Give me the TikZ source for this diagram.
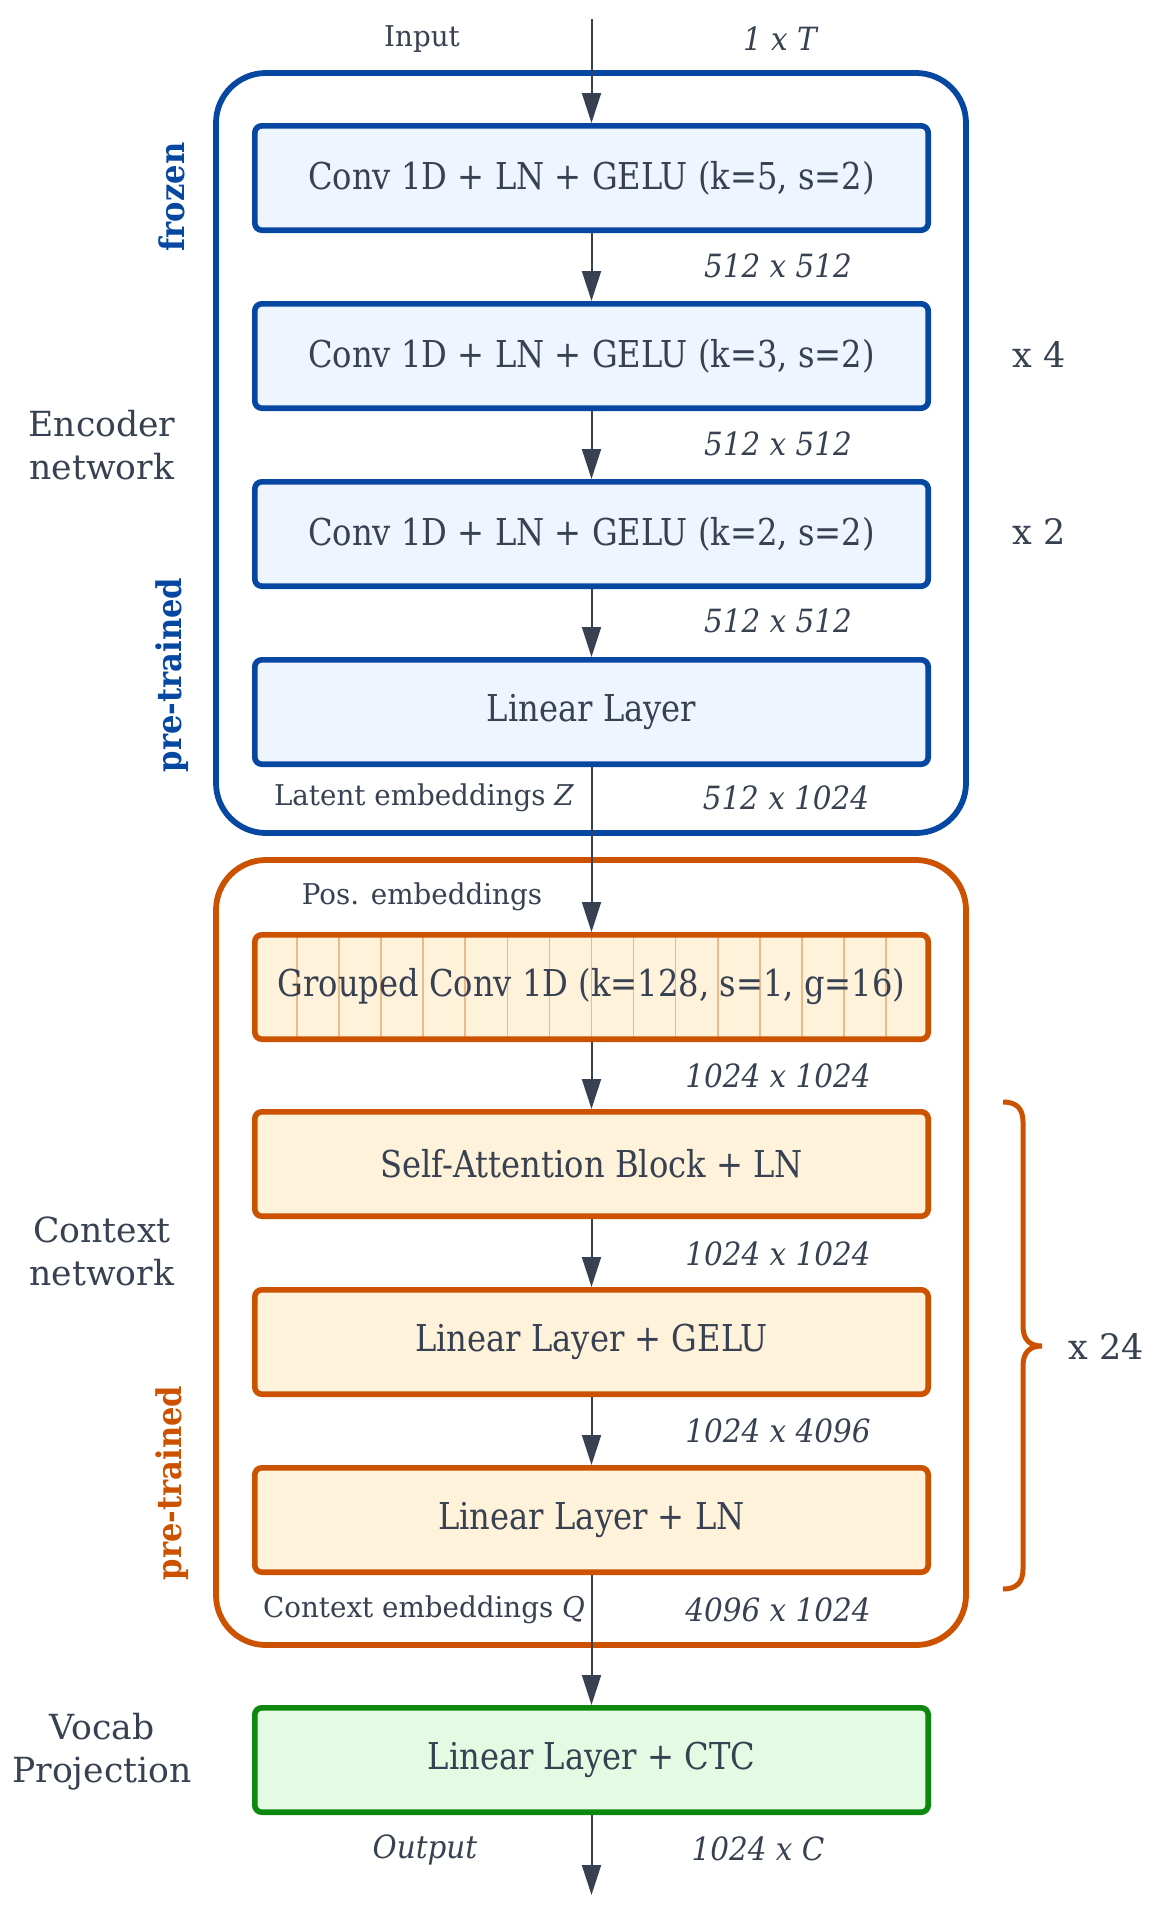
\documentclass[tikz,border=0pt]{standalone}
\usepackage{fontspec}
\setmainfont{DejaVu Serif}
\newfontfamily\boxf{DejaVu Serif}[FakeStretch=0.87]
\newfontfamily\dimf{DejaVu Serif}[FakeStretch=0.92]
\newfontfamily\smallf{DejaVu Serif}[FakeStretch=0.97]
\newfontfamily\vlf{DejaVu Serif}[FakeStretch=0.9]
\usetikzlibrary{arrows.meta,calc}
\definecolor{txt}{RGB}{55,65,81}
\definecolor{bluec}{RGB}{6,71,161}
\definecolor{bluefill}{RGB}{238,245,255}
\definecolor{orangec}{RGB}{204,82,0}
\definecolor{orangefill}{RGB}{255,242,219}
\definecolor{stripec}{RGB}{238,184,136}
\definecolor{greenc}{RGB}{12,136,12}
\definecolor{greenfill}{RGB}{227,251,227}
\begin{document}
\begin{tikzpicture}[x=0.5pt,y=-0.5pt,
  txtc/.style={text=txt,inner sep=0pt},
  boxtext/.style={txtc,font=\boxf\fontsize{18.5}{22}\selectfont},
  small/.style={txtc,font=\smallf\fontsize{14.3}{17}\selectfont},
  dim/.style={txtc,font=\dimf\fontsize{16}{19}\selectfont\itshape},
  side/.style={txtc,font=\fontsize{17.3}{21.5}\selectfont,align=center},
  rep/.style={txtc,font=\fontsize{17.5}{21}\selectfont},
  vlabel/.style={inner sep=0pt,rotate=90,font=\vlf\fontsize{17}{20}\selectfont\bfseries},
  layer/.style={boxtext,rounded corners=3.5pt,line width=2.8pt,minimum width=336.7pt,minimum height=52.2pt},
  bluebox/.style={layer,draw=bluec,fill=bluefill},
  orangebox/.style={layer,draw=orangec,fill=orangefill},
  greenbox/.style={layer,draw=greenc,fill=greenfill},
  arr/.style={draw=txt,line width=1pt,-{Triangle[length=15pt,width=9.5pt]},fill=txt},
  group/.style={line width=2.9pt,rounded corners=25pt}
]
\useasboundingbox (0,0) rectangle (1153,1911);

% group frames
\draw[group,draw=bluec] (216,73) rectangle (966,833);
\draw[group,draw=orangec] (216,860) rectangle (966,1645);

% layers
\node[bluebox] (b1) at (591.5,178) {Conv 1D + LN + GELU (k=5, s=2)};
\node[bluebox] (b2) at (591.5,356) {Conv 1D + LN + GELU (k=3, s=2)};
\node[bluebox] (b3) at (591.5,534) {Conv 1D + LN + GELU (k=2, s=2)};
\node[bluebox] (b4) at (591.5,712) {Linear Layer};
\node[orangebox,path picture={
   \foreach \k in {1,...,15}
     \draw[stripec,line width=0.75pt]
       ($(path picture bounding box.north west)!\k/16!(path picture bounding box.north east)$) --
       ($(path picture bounding box.south west)!\k/16!(path picture bounding box.south east)$);
  }] (g) at (591.5,987) {Grouped Conv 1D (k=128, s=1, g=16)};
\node[orangebox] (o1) at (591.5,1164) {Self-Attention Block + LN};
\node[orangebox] (o2) at (591.5,1342) {Linear Layer + GELU};
\node[orangebox] (o3) at (591.5,1520) {Linear Layer + LN};
\node[greenbox] (v) at (591.5,1760) {Linear Layer + CTC};

% connectors
\coordinate (in) at (591.5,19);
\coordinate (out) at (591.5,1895);
\draw[arr] (in) -- (b1);
\draw[arr] (b1) -- (b2);
\draw[arr] (b2) -- (b3);
\draw[arr] (b3) -- (b4);
\draw[arr] (b4) -- (g);
\draw[arr] (g) -- (o1);
\draw[arr] (o1) -- (o2);
\draw[arr] (o2) -- (o3);
\draw[arr] (o3) -- (v);
\draw[arr] (v) -- (out);

% labels
\node[small] (lin) at (422,39) {Input};
\node[dim] (d0) at (780,39) {1 x T};
\node[dim] (d1) at (778,266) {512 x 512};
\node[dim] (d2) at (778,444) {512 x 512};
\node[dim] (d3) at (778,621) {512 x 512};
\node[small] (llat) at (424,798) {Latent embeddings \textit{Z}};
\node[dim] (d4) at (786,798) {512 x 1024};
\node[small] (lpos) at (422,897) {Pos. embeddings};
\node[dim] (d5) at (778,1076) {1024 x 1024};
\node[dim] (d6) at (778,1254) {1024 x 1024};
\node[dim] (d7) at (778,1431) {1024 x 4096};
\node[small] (lctx) at (424,1610) {Context embeddings \textit{Q}};
\node[dim] (d8) at (778,1610) {4096 x 1024};
\node[dim] (lout) at (425,1850) {Output};
\node[dim] (d9) at (758,1849) {1024 x C};

\node[rep] (r4) at (1039,355) {x 4};
\node[rep] (r2) at (1039,532) {x 2};
\node[rep] (r24) at (1106,1346) {x 24};

\node[side] (senc) at (102,445) {Encoder\\network};
\node[side] (sctx) at (102,1251) {Context\\network};
\node[side] (svoc) at (102,1752) {Vocab\\Projection};

\node[vlabel,text=bluec] (vfr) at (172,197) {frozen};
\node[vlabel,text=bluec] (vpt1) at (172,675) {pre-trained};
\node[vlabel,text=orangec] (vpt2) at (172,1483) {pre-trained};

% brace
\draw[orangec,line width=2.5pt] (1003,1102) .. controls (1016,1102) and (1023,1108) .. (1023,1122)
  -- (1023,1326) .. controls (1023,1340) and (1030,1346) .. (1042,1346)
  .. controls (1030,1346) and (1023,1352) .. (1023,1366)
  -- (1023,1569) .. controls (1023,1583) and (1016,1589) .. (1003,1589);
\end{tikzpicture}
\end{document}
